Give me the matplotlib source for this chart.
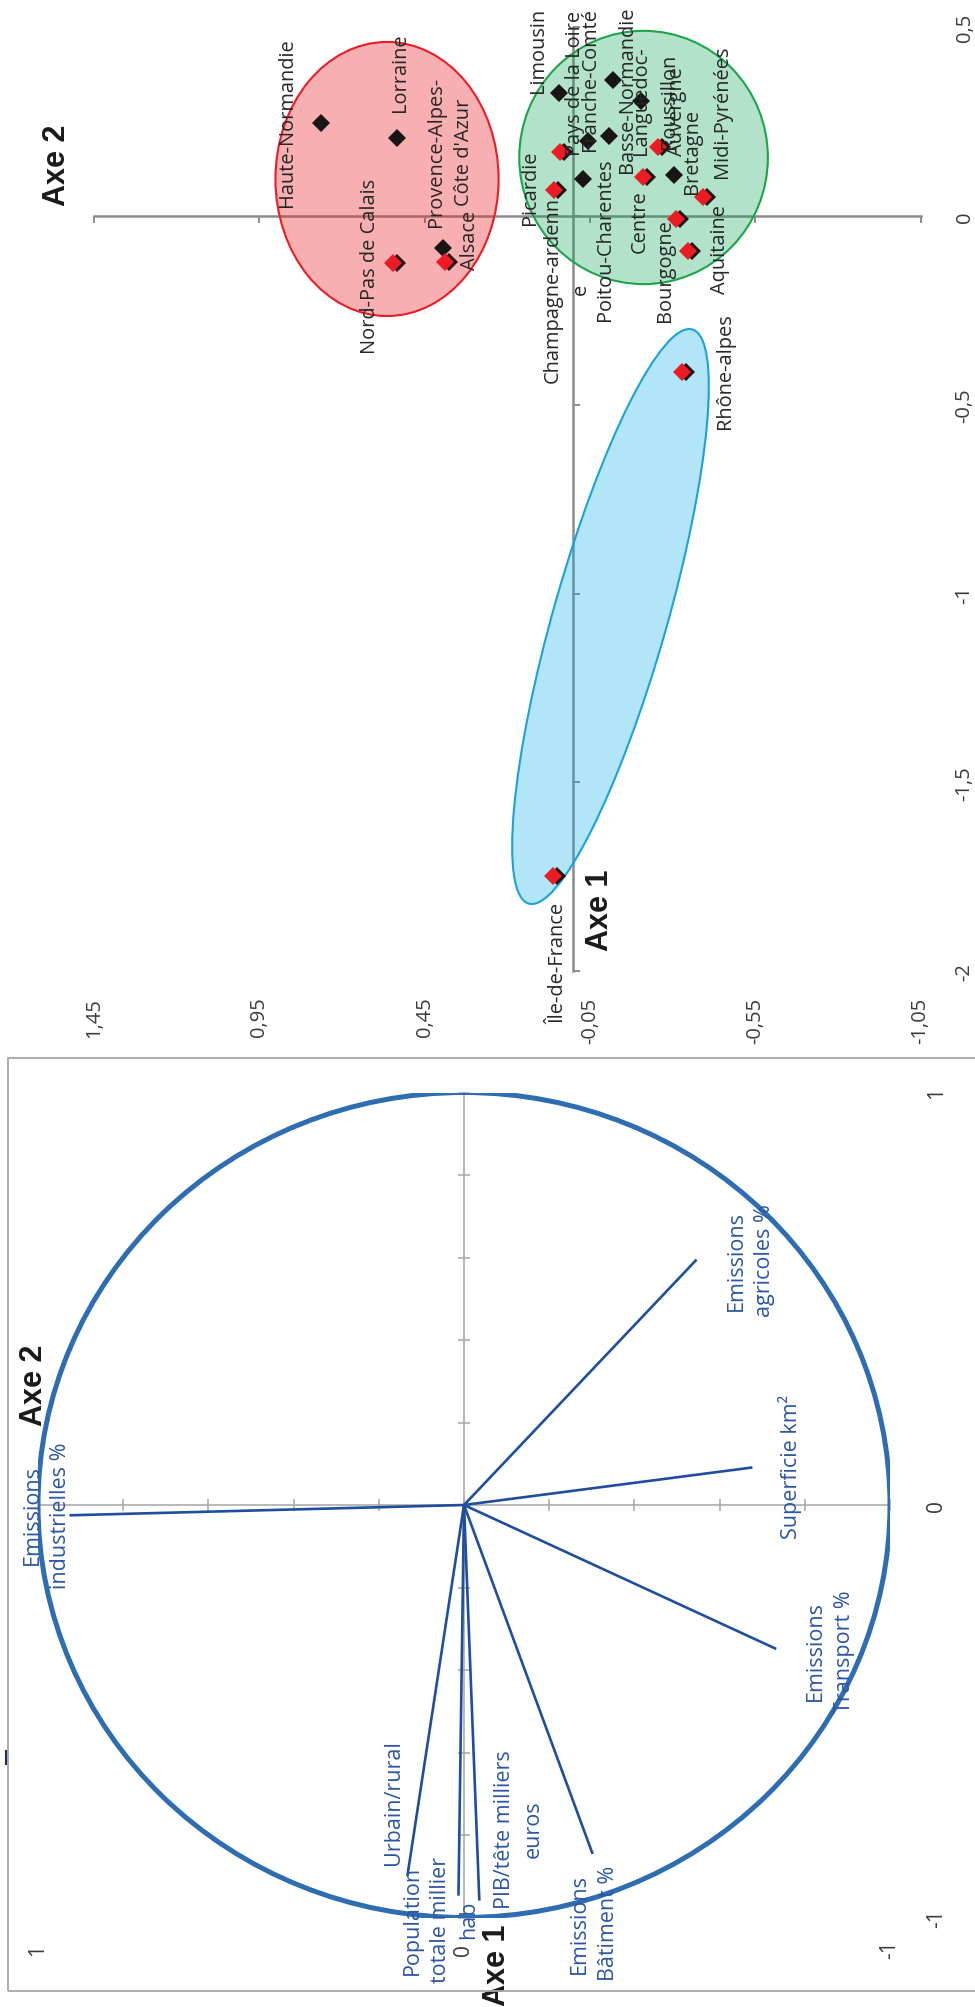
import numpy as np
import matplotlib
matplotlib.use("Agg")
import matplotlib.pyplot as plt
from matplotlib.patches import Ellipse, Rectangle
import matplotlib.transforms as mtransforms
from matplotlib.lines import Line2D

# ---------------- DATA ----------------
# Individuals (regions) on the factorial plane (Axe 1, Axe 2)
regions = ["Haute-Normandie", "Lorraine", "Provence-Alpes-\nCôte d'Azur", "Alsace",
           "Nord-Pas de Calais", "Limousin", "Pays de la Loire", "Franche-Comté",
           "Basse-Normandie", "Languedoc-\nRoussillon", "Auvergne", "Bretagne",
           "Midi-Pyrénées", "Picardie", "Champagne-ardenn\ne", "Poitou-Charentes",
           "Centre", "Bourgogne", "Aquitaine", "Rhône-alpes", "Île-de-France"]
axe1 = [0.246, 0.207, -0.086, -0.123, -0.125, 0.326, 0.169, 0.199, 0.360, 0.304,
        0.184, 0.109, 0.051, 0.070, 0.098, 0.213, 0.103, -0.008, -0.092, -0.412, -1.748]
axe2 = [0.765, 0.533, 0.394, 0.389, 0.545, 0.044, 0.041, -0.043, -0.119, -0.203,
        -0.257, -0.304, -0.393, 0.059, -0.030, -0.107, -0.211, -0.309, -0.346, -0.327, 0.063]
highlighted = [0, 0, 0, 1, 1, 0, 1, 0, 0, 0, 1, 0, 1, 1, 0, 0, 1, 1, 1, 1, 1]

top_axe1_ticks = [0.5, 0, -0.5, -1, -1.5, -2]
top_axe1_labels = ["0,5", "0", "-0,5", "-1", "-1,5", "-2"]
top_axe2_ticks = [1.45, 0.95, 0.45, -0.05, -0.55, -1.05]
top_axe2_labels = ["1,45", "0,95", "0,45", "-0,05", "-0,55", "-1,05"]

# Variables on the correlation circle
variables = ["Emissions\nindustrielles %", "Emissions\nagricoles %", "Superficie km²",
             "Emissions\nTransport %", "Emissions\nBâtiment %", "PIB/tête milliers\neuros",
             "Population\ntotale millier\nhab", "Urbain/rural"]
cor_axe1 = [-0.025, 0.595, 0.091, -0.349, -0.846, -0.959, -0.947, -0.900]
cor_axe2 = [0.926, -0.546, -0.677, -0.733, -0.302, -0.036, 0.013, 0.133]

circ_ticks = [1, 0, -1]
circ_labels = ["1", "0", "-1"]

# ---------------- LAYOUT / STYLE ----------------
W, H = 975, 2008
FONT = ["Open Sans", "DejaVu Sans"]
BOLD = ["Liberation Sans", "DejaVu Sans"]
TXT = "#262626"
TICKC = "#3a3a3a"
GRAY = "#8C8C8C"

# label anchor positions (Axe 2, Axe 1), for text placement only
region_label_pos = [(0.867, 0.250), (0.525, 0.381), (0.374, 0.172), (0.313, -0.061),
                    (0.616, -0.131), (0.107, 0.440), (-0.005, 0.354), (-0.050, 0.363),
                    (-0.162, 0.338), (-0.247, 0.307), (-0.313, 0.278), (-0.358, 0.174),
                    (-0.449, 0.278), (0.132, 0.078), (0.020, -0.193), (-0.095, -0.060),
                    (-0.201, -0.012), (-0.277, -0.143), (-0.443, -0.087), (-0.458, -0.409),
                    (0.044, -1.976)]
variable_label_pos = [(0.981, -0.023), (-0.673, 0.595), (-0.765, 0.095), (-0.859, -0.352),
                      (-0.305, -1.013), (-0.129, -0.784), (0.056, -1.004), (0.166, -0.719)]


def fx(px):
    return px / W


def fy(py):
    return 1 - py / H


fig = plt.figure(figsize=(W / 100, H / 100), dpi=100)
fig.patch.set_facecolor("white")

# ================= TOP: individuals =================
ax = fig.add_axes([fx(94.1), fy(972), (920.6 - 94.1) / W, (972 - 28.25) / H])
ax.set_facecolor("none")
ax.set_xlim(1.45, -1.05)
ax.set_ylim(-2, 0.5)
for s in ["top", "right"]:
    ax.spines[s].set_visible(False)
ax.spines["left"].set_position(("data", 0))
ax.spines["bottom"].set_position(("data", 0))
for s in ["left", "bottom"]:
    ax.spines[s].set_color(GRAY)
    ax.spines[s].set_linewidth(1.8)
ax.set_xticks(top_axe2_ticks)
ax.set_yticks(top_axe1_ticks)
ax.tick_params(axis="x", direction="out", length=5, width=1.4, color=GRAY, labelbottom=False)
ax.tick_params(axis="y", direction="in", length=5, width=1.4, color=GRAY, labelleft=False)

trans_r = mtransforms.blended_transform_factory(ax.transAxes, ax.transData)
for v, lab in zip(top_axe1_ticks, top_axe1_labels):
    ax.annotate(lab, xy=(1, v), xycoords=trans_r, xytext=(24.5, 0), textcoords="offset points",
                rotation=90, ha="left", va="center", fontsize=14.5, color=TICKC, family=FONT)
trans_b = mtransforms.blended_transform_factory(ax.transData, ax.transAxes)
for v, lab in zip(top_axe2_ticks, top_axe2_labels):
    ax.annotate(lab, xy=(v, 0), xycoords=trans_b, xytext=(0, -18.5), textcoords="offset points",
                rotation=90, ha="center", va="top", fontsize=14.5, color=TICKC, family=FONT)

# group ellipses (translucent, over the axis lines)
ax.add_artist(Ellipse((0.564, 0.098), 0.675, 0.726, facecolor=(0.93, 0.11, 0.14, 0.35),
                      edgecolor="#ED1C24", lw=1.5, zorder=3))
ax.add_artist(Ellipse((-0.212, 0.155), 0.752, 0.671, facecolor=(0.0, 0.63, 0.31, 0.30),
                      edgecolor="#1BA548", lw=1.5, zorder=3))
blue_tr = mtransforms.Affine2D() + mtransforms.ScaledTranslation(-0.112, -1.061, ax.transData)
ax.add_artist(Ellipse((0, 0), 113.6, 597, angle=-15.9, transform=blue_tr,
                      facecolor=(0.0, 0.67, 0.91, 0.30), edgecolor="#1BA1DB", lw=1.5, zorder=3))

a1 = np.array(axe1)
a2 = np.array(axe2)
hl = np.array(highlighted, dtype=bool)
shadow = mtransforms.offset_copy(ax.transData, fig=fig, x=4, y=0, units="dots")
ax.plot(a2[~hl], a1[~hl], ls="none", marker="D", ms=9.4, mew=0, color="#1a1515", zorder=6)
ax.plot(a2[hl], a1[hl], ls="none", marker="D", ms=9.4, mew=0, color="#1a1515",
        transform=shadow, zorder=6)
ax.plot(a2[hl], a1[hl], ls="none", marker="D", ms=9.4, mew=0, color="#ED1C24", zorder=6.1)

for name, (lx, ly) in zip(regions, region_label_pos):
    ax.text(lx, ly, name, rotation=90, ha="center", va="center", ma="center",
            fontsize=14.4, linespacing=1.5, color=TXT, family=FONT, zorder=7)

ax.text(1.562, 0.138, "Axe 2", rotation=90, ha="center", va="center", fontsize=22,
        fontweight="bold", family=BOLD, color="#1a1a1a")
ax.text(-0.080, -1.836, "Axe 1", rotation=90, ha="center", va="center", fontsize=22,
        fontweight="bold", family=BOLD, color="#1a1a1a")

# ================= BOTTOM: correlation circle =================
fig.add_artist(Rectangle((fx(7.5), fy(1992)), 1.1, (1992 - 1058.5) / H, transform=fig.transFigure,
                         fill=False, edgecolor="#A6A6A6", lw=1.3))
fig.add_artist(Line2D([fx(6), fx(6)], [fy(1752), fy(1765)], transform=fig.transFigure,
                      color="#1F2A60", lw=1.5))

bx = fig.add_axes([fx(38), fy(1918.5), 852 / W, 825 / H])
bx.set_facecolor("none")
bx.set_xlim(1, -1)
bx.set_ylim(-1, 1)
for s in ["top", "right"]:
    bx.spines[s].set_visible(False)
bx.spines["left"].set_position(("data", 0))
bx.spines["bottom"].set_position(("data", 0))
for s in ["left", "bottom"]:
    bx.spines[s].set_color("#A6A6A6")
    bx.spines[s].set_linewidth(1.1)
small_ticks = np.round(np.arange(-1, 1.01, 0.2), 1)
bx.set_xticks(small_ticks)
bx.set_yticks(small_ticks)
bx.tick_params(axis="both", direction="inout", length=8, width=1.1, color="#A6A6A6",
               labelbottom=False, labelleft=False)

tr_r = mtransforms.blended_transform_factory(bx.transAxes, bx.transData)
for v, lab in zip(circ_ticks, circ_labels):
    bx.annotate(lab, xy=(1, v), xycoords=tr_r, xytext=(26, 0), textcoords="offset points",
                rotation=90, ha="left", va="center", fontsize=15, color=TICKC, family=FONT)
tr_b = mtransforms.blended_transform_factory(bx.transData, bx.transAxes)
for v, lab in zip(circ_ticks, circ_labels):
    bx.annotate(lab, xy=(v, 0), xycoords=tr_b, xytext=(0, -22.7), textcoords="offset points",
                rotation=90, ha="center", va="center", fontsize=15, color=TICKC, family=FONT)

bx.add_artist(Ellipse((0, 0), 2, 2, fill=False, edgecolor="#2F6DB2", lw=3.6, zorder=3))
for v2, v1 in zip(cor_axe2, cor_axe1):
    bx.plot([0, v2], [0, v1], color="#1F4E9E", lw=1.9, solid_capstyle="butt", zorder=4)

for name, (lx, ly) in zip(variables, variable_label_pos):
    bx.text(lx, ly, name, rotation=90, ha="center", va="center", ma="center",
            fontsize=15.5, linespacing=1.45, color="#2A56A6", family=FONT, zorder=5)

bx.text(1.009, 0.292, "Axe 2", rotation=90, ha="center", va="center", fontsize=22,
        fontweight="bold", family=BOLD, color="#1a1a1a", zorder=6)
bx.text(-0.077, -1.113, "Axe 1", rotation=90, ha="center", va="center", fontsize=22,
        fontweight="bold", family=BOLD, color="#1a1a1a", zorder=6)

fig.savefig("out.png", dpi=100)
